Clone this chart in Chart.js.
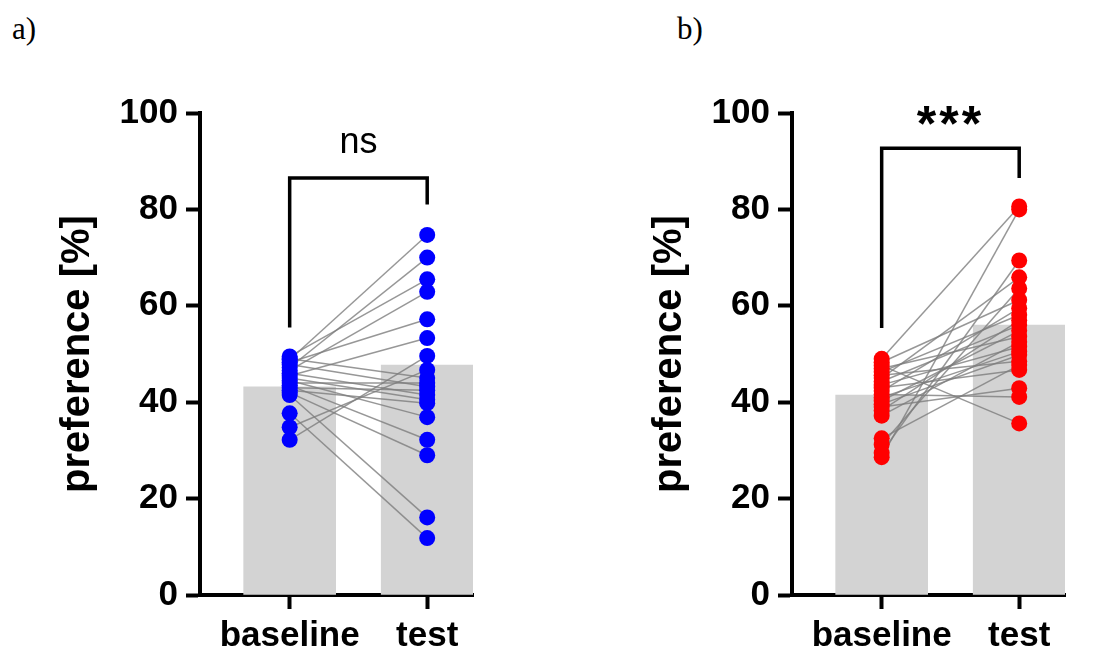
<!DOCTYPE html>
<html>
<head>
<meta charset="utf-8">
<script src="https://cdn.jsdelivr.net/npm/chart.js@4.4.0/dist/chart.umd.min.js"></script>
<style>
    body { margin: 0; background: #fff; }
    .wrap { position: relative; width: 1107px; height: 657px; overflow: hidden; }
    canvas { position: absolute; top: 0; }
    #chartA { left: 0; }
    #chartB { left: 592px; }
    .tag { position: absolute; top: 11px; font: 31px "Liberation Serif", "Times New Roman", serif; color: #000; }
</style>
</head>
<body>
<div class="wrap">
    <div class="tag" style="left: 12px;">a)</div>
    <div class="tag" style="left: 677px;">b)</div>
    <canvas id="chartA" width="515" height="657"></canvas>
    <canvas id="chartB" width="515" height="657"></canvas>
</div>
<script>
// x positions 0 / 1 on a linear axis
const categories = ['baseline', 'test'];

// a) paired preference values, one entry per animal
const baselineA = [48.8, 47.2, 49.5, 46.6, 48.3, 45.5, 32.2, 34.8, 49.0, 44.0,
                   47.8, 43.0, 46.0, 45.0, 42.5, 44.5, 43.5, 42.0, 41.5, 37.7];
const testA     = [74.7, 70.0, 65.5, 62.9, 57.2, 53.3, 49.6, 46.7, 45.0, 44.0,
                   43.2, 42.5, 41.5, 40.5, 39.8, 36.9, 32.2, 29.0, 16.1, 11.8];
const meanA = [43.2, 47.7];

// b)
const baselineB = [49.0, 28.6, 29.5, 45.0, 31.2, 48.3, 42.3, 46.3, 38.3, 44.3, 40.3,
                   47.0, 37.2, 43.6, 41.0, 39.6, 45.6, 32.5, 43.0, 39.0, 41.6, 47.6];
const testB     = [80.6, 80.0, 69.4, 65.9, 63.6, 61.2, 59.5, 58.1, 57.0, 56.0, 54.8,
                   53.6, 52.5, 51.5, 50.5, 49.8, 48.5, 47.7, 46.7, 42.9, 41.1, 35.6];
const meanB = [41.5, 56.0];

// significance brackets: [left leg end, top, right leg end], label height
const bracketA = [55.5, 86.5, 81.0];
const bracketB = [55.4, 92.7, 86.5];
const labelA = { text: 'ns', y: 93.8, font: '36px "Liberation Sans", Arial, sans-serif', spacing: '0px' };
const labelB = { text: '***', y: 97.0, font: 'bold 50px "Liberation Sans", Arial, sans-serif', spacing: '3px' };

const FONT = '"Liberation Sans", Arial, sans-serif';
const LEFT_PAD = 54;

const bracketPlugin = {
    id: 'bracket',
    afterDatasetsDraw(chart, args, opts) {
        const xs = chart.scales.x, ys = chart.scales.y;
        const ctx = chart.ctx;
        const x0 = xs.getPixelForValue(0), x1 = xs.getPixelForValue(1);
        const b = opts.bracket;
        ctx.save();
        ctx.strokeStyle = '#000';
        ctx.lineWidth = 3.5;
        ctx.lineJoin = 'miter';
        ctx.beginPath();
        ctx.moveTo(x0, ys.getPixelForValue(b[0]));
        ctx.lineTo(x0, ys.getPixelForValue(b[1]));
        ctx.lineTo(x1, ys.getPixelForValue(b[1]));
        ctx.lineTo(x1, ys.getPixelForValue(b[2]));
        ctx.stroke();

        const lab = opts.label;
        ctx.fillStyle = '#000';
        ctx.font = lab.font;
        ctx.letterSpacing = lab.spacing;
        ctx.textAlign = 'center';
        ctx.textBaseline = 'middle';
        ctx.fillText(lab.text, (x0 + x1) / 2, ys.getPixelForValue(lab.y));
        ctx.restore();
    }
};

function buildPanel(canvasId, baseline, test, means, color, bracket, label) {
    const ctx = document.getElementById(canvasId);

    // grey bars for the group values
    const datasets = [{
        type: 'bar',
        data: means.map((v, i) => ({ x: i, y: v })),
        backgroundColor: '#d3d3d3',
        barThickness: 92,
        order: 3
    }];

    // one line per animal joining its two sessions
    baseline.forEach((v, i) => {
        datasets.push({
            type: 'line',
            data: [{ x: 0, y: v }, { x: 1, y: test[i] }],
            borderColor: 'rgba(125, 125, 125, 0.8)',
            borderWidth: 1.5,
            pointRadius: 0,
            fill: false,
            order: 2
        });
    });

    // individual points
    datasets.push({
        type: 'scatter',
        data: baseline.map(v => ({ x: 0, y: v })).concat(test.map(v => ({ x: 1, y: v }))),
        backgroundColor: color,
        borderWidth: 0,
        pointRadius: 8,
        order: 1
    });

    return new Chart(ctx, {
        type: 'bar',
        data: { datasets: datasets },
        plugins: [bracketPlugin],
        options: {
            responsive: false,
            animation: false,
            layout: { padding: { left: LEFT_PAD, top: 113, right: 42, bottom: 0 } },
            plugins: {
                legend: { display: false },
                tooltip: { enabled: false },
                bracket: { bracket: bracket, label: label }
            },
            scales: {
                x: {
                    type: 'linear',
                    min: -0.652,
                    max: 1.333,
                    offset: false,
                    afterBuildTicks: s => { s.ticks = [{ value: 0 }, { value: 1 }]; },
                    afterFit: s => { s.height = 62; },
                    ticks: {
                        callback: v => categories[v],
                        font: { family: FONT, size: 35, weight: 'bold' },
                        color: '#000',
                        padding: 6,
                        maxRotation: 0,
                        autoSkip: false
                    },
                    grid: {
                        offset: false,
                        drawOnChartArea: false,
                        drawTicks: true,
                        tickLength: 14,
                        tickWidth: 4,
                        tickColor: '#000'
                    },
                    border: { display: true, color: '#000', width: 4 }
                },
                y: {
                    min: 0,
                    max: 100,
                    afterFit: s => { s.width = 200 - LEFT_PAD; },
                    ticks: {
                        stepSize: 20,
                        font: { family: FONT, size: 35, weight: 'bold' },
                        color: '#000',
                        padding: 8
                    },
                    grid: {
                        drawOnChartArea: false,
                        drawTicks: true,
                        tickLength: 14,
                        tickWidth: 4,
                        tickColor: '#000'
                    },
                    border: { display: true, color: '#000', width: 4 },
                    title: {
                        display: true,
                        text: 'preference [%]',
                        font: { family: FONT, size: 40, weight: 'bold' },
                        color: '#000',
                        padding: 0
                    }
                }
            }
        }
    });
}

buildPanel('chartA', baselineA, testA, meanA, '#0000ff', bracketA, labelA);
buildPanel('chartB', baselineB, testB, meanB, '#ff0000', bracketB, labelB);
</script>
</body>
</html>
